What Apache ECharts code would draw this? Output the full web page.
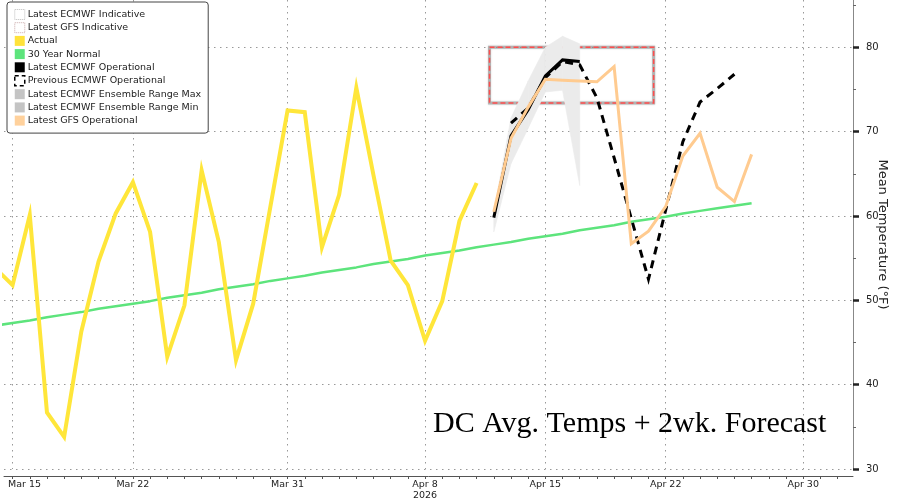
<!DOCTYPE html>
<html><head><meta charset="utf-8">
<script src="https://cdn.jsdelivr.net/npm/echarts@6/dist/echarts.min.js"></script>
<style>html,body{margin:0;padding:0;background:#fff}#c{width:900px;height:504px}</style>
</head><body><div id="c"></div>
<script>
// x values are day offsets counted from Mar 15, 2026 (day 0)
const tickDays = [0, 7, 16, 24, 31, 38, 46];
const tickLabels = ['Mar 15', 'Mar 22', 'Mar 31', 'Apr 8\n2026', 'Apr 15', 'Apr 22', 'Apr 30'];
const yTicks = [30, 40, 50, 60, 70, 80];
const yMinorTicks = [35, 45, 55, 65, 75, 85];

const actualStart = -1; // Mar 14
const actual = [53.8, 51.8, 60.1, 36.7, 33.8, 46.3, 54.6, 60.3, 64.0, 58.1, 43.3, 49.4, 65.4, 56.9, 42.9, 49.6, 61.1, 72.5,
  72.3, 56.3, 62.5, 75.2, 64.8, 54.7, 51.8, 45.2, 49.9, 59.4, 63.9];

const normalStart = -1; // Mar 14
const normal = [47.0, 47.3, 47.6, 48.0, 48.3, 48.6, 49.0, 49.3, 49.6, 49.9, 50.3, 50.6, 50.9, 51.3, 51.6, 51.9, 52.3, 52.6,
  52.9, 53.3, 53.6, 53.9, 54.3, 54.6, 54.9, 55.3, 55.6, 55.9, 56.3, 56.6, 56.9, 57.3, 57.6, 57.9, 58.3, 58.6, 58.9,
  59.3, 59.6, 59.9, 60.3, 60.6, 60.9, 61.2, 61.5];

const latestEcmwfStart = 28; // Apr 12
const latestEcmwf = [59.8, 69.5, 72.6, 76.6, 78.5, 78.3];

const prevEcmwfStart = 29; // Apr 13
const prevEcmwf = [71.0, 72.8, 76.4, 78.3, 77.9, 74.0, 66.9, 59.7, 52.5, 60.7, 68.8, 73.5, 75.1, 76.8];

const gfsStart = 28; // Apr 12
const gfs = [60.5, 69.2, 72.9, 76.2, 76.1, 76.0, 75.9, 77.7, 56.7, 58.2, 61.1, 67.1, 69.8, 63.4, 61.7, 67.3];

const ensStart = 28; // Apr 12
const ensMax = [60.5, 71.6, 76.0, 80.0, 81.3, 80.4];
const ensMin = [58.1, 66.2, 70.4, 74.7, 74.9, 63.6];

// indicative box (day offsets, °F)
const indicativeX = [27.75, 37.3];
const indicativeY = [73.4, 80.0];

const toPairs = (start, arr) => arr.map((v, i) => [start + i, v]);
const allDays = [];
for (let d = 0; d <= 48; d++) allDays.push(d);

const FONT = 'DejaVu Sans';
const XMIN = -0.5, XMAX = 48.9, YMIN = 30, YMAX = 85.6;

const chart = echarts.init(document.getElementById('c'), null, {renderer: 'canvas'});
const lineBase = {type: 'line', showSymbol: false, symbol: 'none', silent: true, xAxisIndex: 0, yAxisIndex: 0};

chart.setOption({
  animation: false,
  grid: {left: 4, right: 47, top: 0, bottom: 35, containLabel: false, outerBoundsMode: 'none'},
  legend: {
    orient: 'vertical', left: 7, top: 2, padding: 7,
    backgroundColor: '#fff', borderColor: '#444', borderWidth: 1, borderRadius: 3,
    itemWidth: 10, itemHeight: 10, itemGap: 2.2, selectedMode: false,
    textStyle: {fontFamily: FONT, fontSize: 9.5, color: '#222', lineHeight: 11, padding: [0, 0, 0, -2]},
    data: [
      {name: 'Latest ECMWF Indicative', icon: 'rect', itemStyle: {color: '#fff', borderColor: '#bbb', borderWidth: 1, borderType: 'dotted'}},
      {name: 'Latest GFS Indicative', icon: 'rect', itemStyle: {color: '#fff', borderColor: '#c9a9a9', borderWidth: 1, borderType: 'dotted'}},
      {name: 'Actual', icon: 'rect', itemStyle: {color: '#ffe23a', borderWidth: 0}},
      {name: '30 Year Normal', icon: 'rect', itemStyle: {color: '#5de47c', borderWidth: 0}},
      {name: 'Latest ECMWF Operational', icon: 'rect', itemStyle: {color: '#000', borderWidth: 0}},
      {name: 'Previous ECMWF Operational', icon: 'rect', itemStyle: {color: '#fff', borderColor: '#000', borderWidth: 1.5, borderType: [4, 3]}},
      {name: 'Latest ECMWF Ensemble Range Max', icon: 'rect', itemStyle: {color: '#c4c4c4', borderWidth: 0}},
      {name: 'Latest ECMWF Ensemble Range Min', icon: 'rect', itemStyle: {color: '#c4c4c4', borderWidth: 0}},
      {name: 'Latest GFS Operational', icon: 'rect', itemStyle: {color: '#ffd19c', borderWidth: 0}}
    ]
  },
  xAxis: [
    {
      type: 'value', min: XMIN, max: XMAX, position: 'bottom', offset: 7,
      axisLine: {show: true, onZero: false, lineStyle: {color: '#555', width: 1}},
      axisTick: {show: true, customValues: allDays, length: 3, lineStyle: {color: '#555'}},
      axisLabel: {
        customValues: tickDays, margin: 3, color: '#222', fontFamily: FONT, fontSize: 9.5, lineHeight: 11,
        hideOverlap: false,
        formatter: v => {
          const i = tickDays.indexOf(Math.round(v));
          if (i < 0) return '';
          return i === 0 ? '{first|' + tickLabels[i] + '}' : tickLabels[i];
        },
        rich: {first: {fontFamily: FONT, fontSize: 9.5, color: '#222', padding: [0, 0, 0, 24]}}
      },
      splitLine: {show: false}
    },
    {
      type: 'value', min: XMIN, max: XMAX, position: 'bottom',
      axisLine: {show: false, onZero: false}, axisTick: {show: false, customValues: tickDays}, axisLabel: {show: false},
      splitLine: {show: true, lineStyle: {color: '#999', width: 1, type: [1.5, 4.5]}}
    }
  ],
  yAxis: [
    {
      type: 'value', position: 'right', min: YMIN, max: YMAX,
      name: 'Mean Temperature (°F)', nameLocation: 'middle', nameRotate: -90, nameGap: 23, nameMoveOverlap: false,
      nameTextStyle: {fontFamily: FONT, fontSize: 13, color: '#222'},
      axisLine: {show: true, onZero: false, lineStyle: {color: '#888', width: 1}},
      axisTick: {show: true, customValues: yTicks, length: 6, lineStyle: {color: '#222', width: 2.5}},
      axisLabel: {customValues: yTicks, margin: 13, color: '#222', fontFamily: FONT, fontSize: 10},
      splitLine: {show: true, lineStyle: {color: '#999', width: 1, type: [1.5, 4.5]}}
    },
    {
      type: 'value', position: 'right', min: YMIN, max: YMAX,
      axisLine: {show: false, onZero: false},
      axisTick: {show: true, customValues: yMinorTicks, length: 3, lineStyle: {color: '#666'}},
      axisLabel: {show: false}, splitLine: {show: false}
    }
  ],
  graphic: [{
    type: 'text', z: 100,
    style: {x: 433, y: 424, text: 'DC Avg. Temps + 2wk. Forecast', font: '30px "Liberation Serif"', fill: '#000', verticalAlign: 'middle'}
  }],
  series: [
    {
      type: 'custom', name: 'Latest ECMWF Ensemble Range Max', z: 1, silent: true, clip: true,
      xAxisIndex: 0, yAxisIndex: 0,
      itemStyle: {color: '#c4c4c4'},
      data: ensMax.map((v, i) => [ensStart + i, v, ensMin[i]]),
      encode: {x: 0, y: [1, 2]},
      renderItem: (params, api) => {
        const i = params.dataIndex;
        if (i >= ensMax.length - 1) return null;
        const pts = [
          api.coord([ensStart + i, ensMax[i]]),
          api.coord([ensStart + i + 1, ensMax[i + 1]]),
          api.coord([ensStart + i + 1, ensMin[i + 1]]),
          api.coord([ensStart + i, ensMin[i]])
        ];
        return {type: 'polygon', shape: {points: pts}, style: {fill: '#ebebeb', stroke: '#ebebeb', lineWidth: 0.6}};
      }
    },
    Object.assign({}, lineBase, {
      name: 'Latest ECMWF Ensemble Range Min', z: 1, data: [], itemStyle: {color: '#c4c4c4'}
    }),
    Object.assign({}, lineBase, {
      name: '30 Year Normal', z: 3, data: toPairs(normalStart, normal),
      itemStyle: {color: '#5de47c'}, lineStyle: {color: '#5de47c', width: 2.5}
    }),
    Object.assign({}, lineBase, {
      name: 'Actual', z: 4, data: toPairs(actualStart, actual),
      itemStyle: {color: '#ffe23a'}, lineStyle: {color: '#ffe63a', width: 4, join: 'miter'}
    }),
    Object.assign({}, lineBase, {
      name: 'Latest ECMWF Operational', z: 5, data: toPairs(latestEcmwfStart, latestEcmwf),
      itemStyle: {color: '#000'}, lineStyle: {color: '#000', width: 3, join: 'miter'}
    }),
    Object.assign({}, lineBase, {
      name: 'Previous ECMWF Operational', z: 5, data: toPairs(prevEcmwfStart, prevEcmwf),
      itemStyle: {color: '#000'}, lineStyle: {color: '#000', width: 3, type: [8, 6], join: 'miter'}
    }),
    Object.assign({}, lineBase, {
      name: 'Latest GFS Operational', z: 6, data: toPairs(gfsStart, gfs),
      itemStyle: {color: '#ffd19c'}, lineStyle: {color: '#ffcb90', width: 3, join: 'miter'}
    }),
    Object.assign({}, lineBase, {
      name: 'Latest ECMWF Indicative', z: 7, data: [], itemStyle: {color: '#bbb'},
      markArea: {silent: true, itemStyle: {color: 'rgba(0,0,0,0)', borderColor: 'rgba(150,150,150,0.6)', borderWidth: 3, shadowColor: 'rgba(0,0,0,0.3)', shadowBlur: 2},
        data: [[{coord: [indicativeX[0], indicativeY[1]]}, {coord: [indicativeX[1], indicativeY[0]]}]]}
    }),
    Object.assign({}, lineBase, {
      name: 'Latest GFS Indicative', z: 8, data: [], itemStyle: {color: '#e55'},
      markArea: {silent: true, itemStyle: {color: 'rgba(0,0,0,0)', borderColor: '#ff4d4d', borderWidth: 1.5, borderType: [5, 3]},
        data: [[{coord: [indicativeX[0], indicativeY[1]]}, {coord: [indicativeX[1], indicativeY[0]]}]]}
    })
  ]
});
</script>
</body></html>
